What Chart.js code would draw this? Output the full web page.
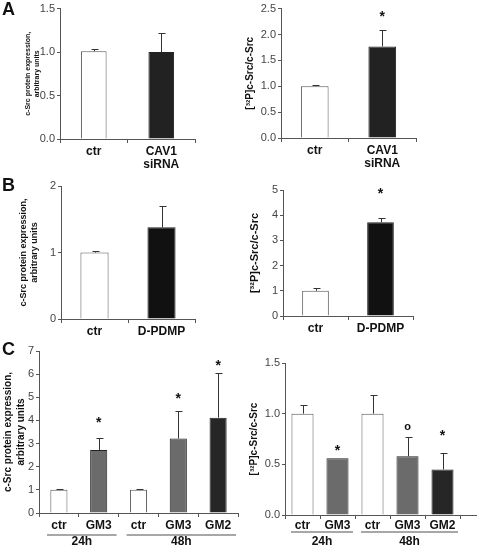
<!DOCTYPE html>
<html>
<head>
<meta charset="utf-8">
<script src="https://cdn.jsdelivr.net/npm/chart.js@4.4.0/dist/chart.umd.min.js"></script>
<style>
html, body { margin: 0; padding: 0; background: #fff; }
#fig { position: relative; width: 477px; height: 549px; overflow: hidden; }
#fig canvas { position: absolute; }
.tag { position: absolute; font: bold 18px 'Liberation Sans', Arial, sans-serif; color: #111; line-height: 18px; }
</style>
</head>
<body>
<div id="fig">
    <canvas id="aExpr" width="205" height="172" style="left:0;top:0"></canvas>
    <canvas id="aPhos" width="237" height="172" style="left:240px;top:0"></canvas>
    <canvas id="bExpr" width="205" height="168" style="left:0;top:172px"></canvas>
    <canvas id="bPhos" width="237" height="168" style="left:240px;top:172px"></canvas>
    <canvas id="cExpr" width="240" height="209" style="left:0;top:340px"></canvas>
    <canvas id="cPhos" width="237" height="209" style="left:240px;top:340px"></canvas>
    <div class="tag" style="left:2px;top:0">A</div>
    <div class="tag" style="left:2px;top:176px">B</div>
    <div class="tag" style="left:2px;top:340px">C</div>
</div>
<script>
const FONT = "'Liberation Sans', Arial, sans-serif";

// ---- panel A: CAV1 siRNA ----
const aCats = ['ctr', ['CAV1', 'siRNA']];
const aExprVals = [1.01, 1.0];
const aExprErr = [0.03, 0.22];
const aExprTicks = ['0.0', '0.5', '1.0', '1.5'];
const aPhosVals = [1.0, 1.77];
const aPhosErr = [0.02, 0.31];
const aPhosTicks = ['0.0', '0.5', '1.0', '1.5', '2.0', '2.5'];
const aPhosMarks = ['', '*'];
const aPhosMarkAt = [0, 2.39];

// ---- panel B: D-PDMP ----
const bCats = ['ctr', 'D-PDMP'];
const bExprVals = [1.0, 1.38];
const bExprErr = [0.02, 0.32];
const bExprTicks = ['0', '1', '2'];
const bPhosVals = [1.0, 3.72];
const bPhosErr = [0.1, 0.18];
const bPhosTicks = ['0', '1', '2', '3', '4', '5'];
const bPhosMarks = ['', '*'];
const bPhosMarkAt = [0, 4.94];

// ---- panel C: gangliosides, 24h / 48h ----
const cCats = ['ctr', 'GM3', 'ctr', 'GM3', 'GM2'];
const cGroups = ['24h', '48h'];
const cGroupFirst = [0, 2];
const cGroupLast = [1, 4];
const cExprVals = [1.0, 2.72, 1.0, 3.22, 4.12];
const cExprErr = [0.05, 0.5, 0.02, 1.2, 1.93];
const cExprTicks = ['0', '1', '2', '3', '4', '5', '6', '7'];
const cExprMarks = ['', '*', '', '*', '*'];
const cExprMarkAt = [0, 4.02, 0, 5.03, 6.49];
const cPhosVals = [1.0, 0.56, 1.0, 0.58, 0.45];
const cPhosErr = [0.09, 0, 0.18, 0.19, 0.16];
const cPhosTicks = ['0.0', '0.5', '1.0', '1.5'];
const cPhosMarks = ['', '*', '', 'o', '*'];
const cPhosMarkAt = [0, 0.66, 0, 0.87, 0.81];

const exprTitle = ['c-Src protein expression,', 'arbitrary units'];
const phosTitle = '[³²P]c-Src/c-Src';

const shade = { 'ctr': '#ffffff', 'CAV1': '#222222', 'D-PDMP': '#111111', 'GM3': '#6b6b6b', 'GM2': '#262626' };
const keyOf = c => Array.isArray(c) ? c[0] : c;

// error bars, significance marks, group brackets
const extras = {
    id: 'extras',
    afterDatasetsDraw(chart, args, opts) {
        const ctx = chart.ctx;
        const y = chart.scales.y, x = chart.scales.x;
        const meta = chart.getDatasetMeta(0);
        const vals = chart.data.datasets[0].data;
        ctx.save();
        ctx.strokeStyle = '#333';
        ctx.lineWidth = 1;
        meta.data.forEach((bar, i) => {
            const e = (opts.err || [])[i];
            if (!e) return;
            const px = Math.round(bar.x) + 0.5;
            const y0 = y.getPixelForValue(vals[i]);
            const y1 = Math.round(y.getPixelForValue(vals[i] + e)) + 0.5;
            ctx.beginPath();
            ctx.moveTo(px, y0);
            ctx.lineTo(px, y1);
            ctx.moveTo(px - 3, y1);
            ctx.lineTo(px + 4, y1);
            ctx.stroke();
        });
        ctx.fillStyle = '#111';
        ctx.textAlign = 'center';
        ctx.textBaseline = 'middle';
        (opts.marks || []).forEach((m, i) => {
            if (!m) return;
            ctx.font = (m === 'o' ? 'bold 11px ' : 'bold 14px ') + FONT;
            const off = m === 'o' ? 0 : 3;
            ctx.fillText(m, meta.data[i].x, y.getPixelForValue(opts.markAt[i]) + off);
        });
        const area = chart.chartArea;
        if (opts.extendTo) {
            ctx.strokeStyle = '#555';
            ctx.beginPath();
            ctx.moveTo(area.right, Math.round(area.bottom) + 0.5);
            ctx.lineTo(opts.extendTo, Math.round(area.bottom) + 0.5);
            ctx.stroke();
        }
        if (opts.groups) {
            const half = (x.getPixelForValue(1) - x.getPixelForValue(0)) / 2;
            opts.groups.forEach((g, k) => {
                const x1 = x.getPixelForValue(opts.first[k]) - half + opts.inset;
                const x2 = x.getPixelForValue(opts.last[k]) + half - 2;
                const ly = area.bottom + opts.lineY;
                ctx.strokeStyle = '#8a8a8a';
                ctx.lineWidth = 1.5;
                ctx.beginPath();
                ctx.moveTo(x1, ly);
                ctx.lineTo(x2, ly);
                ctx.stroke();
                ctx.font = 'bold 12px ' + FONT;
                ctx.fillText(g, (x1 + x2) / 2, area.bottom + opts.textY);
            });
        }
        ctx.restore();
    }
};

function makePanel(id, d, g) {
    const ticks = d.ticks;
    const step = parseFloat(ticks[1]) - parseFloat(ticks[0]);
    return new Chart(document.getElementById(id), {
        type: 'bar',
        data: {
            labels: d.cats,
            datasets: [{
                data: d.vals,
                backgroundColor: d.cats.map(c => shade[keyOf(c)]),
                borderColor: d.cats.map(c => keyOf(c) === 'ctr' ? '#555' : '#222'),
                borderWidth: 1,
                barPercentage: g.barPct,
                categoryPercentage: 1
            }]
        },
        options: {
            responsive: false,
            animation: false,
            devicePixelRatio: 1,
            layout: { padding: { top: g.padTop, right: g.padRight, left: 0, bottom: 0 } },
            plugins: {
                legend: { display: false },
                tooltip: { enabled: false },
                extras: Object.assign({ err: d.err, marks: d.marks, markAt: d.markAt }, g.extras || {})
            },
            scales: {
                x: {
                    grid: { drawOnChartArea: false, drawTicks: true, tickLength: 4, color: '#555', offset: true },
                    border: { color: '#555' },
                    ticks: {
                        color: '#111',
                        font: { family: FONT, size: g.catSize, weight: 'bold', lineHeight: 1.1 },
                        padding: g.catPad,
                        maxRotation: 0,
                        autoSkip: false
                    },
                    afterFit: s => { s.height = g.xH; }
                },
                y: {
                    min: 0,
                    max: parseFloat(ticks[ticks.length - 1]),
                    grid: { drawOnChartArea: false, drawTicks: true, tickLength: 3, color: '#555' },
                    border: { color: '#555' },
                    ticks: {
                        stepSize: step,
                        callback: (v, i) => ticks[i],
                        color: '#444',
                        font: { family: FONT, size: g.tickSize },
                        padding: 2
                    },
                    title: {
                        display: true,
                        text: d.title,
                        color: '#111',
                        font: { family: FONT, size: g.titleSize, weight: 'bold', lineHeight: 1.25 },
                        padding: { top: g.titlePad, bottom: 0 }
                    },
                    afterFit: s => { s.width = g.yW; }
                }
            }
        },
        plugins: [extras]
    });
}

makePanel('aExpr',
    { cats: aCats, vals: aExprVals, err: aExprErr, ticks: aExprTicks, title: exprTitle },
    { yW: 60, padTop: 6, padRight: 10, xH: 33, barPct: 0.38, catSize: 12, catPad: 2, tickSize: 11, titleSize: 7, titlePad: 24 });
makePanel('aPhos',
    { cats: aCats, vals: aPhosVals, err: aPhosErr, ticks: aPhosTicks, title: phosTitle, marks: aPhosMarks, markAt: aPhosMarkAt },
    { yW: 41, padTop: 4, padRight: 61, xH: 34, barPct: 0.41, catSize: 12, catPad: 2, tickSize: 11, titleSize: 10, titlePad: 4 });
makePanel('bExpr',
    { cats: bCats, vals: bExprVals, err: bExprErr, ticks: bExprTicks, title: exprTitle },
    { yW: 61, padTop: 14, padRight: 10, xH: 21, barPct: 0.42, catSize: 12, catPad: 2, tickSize: 11, titleSize: 9, titlePad: 18 });
makePanel('bPhos',
    { cats: bCats, vals: bPhosVals, err: bPhosErr, ticks: bPhosTicks, title: phosTitle, marks: bPhosMarks, markAt: bPhosMarkAt },
    { yW: 43, padTop: 18, padRight: 64, xH: 24, barPct: 0.41, catSize: 12, catPad: 2, tickSize: 11, titleSize: 11, titlePad: 8 });
makePanel('cExpr',
    { cats: cCats, vals: cExprVals, err: cExprErr, ticks: cExprTicks, title: exprTitle, marks: cExprMarks, markAt: cExprMarkAt },
    { yW: 39, padTop: 11, padRight: 2, xH: 36, barPct: 0.43, catSize: 12, catPad: 2, tickSize: 11, titleSize: 10, titlePad: 2,
      extras: { groups: cGroups, first: cGroupFirst, last: cGroupLast, inset: 8, lineY: 22, textY: 29 } });
makePanel('cPhos',
    { cats: cCats, vals: cPhosVals, err: cPhosErr, ticks: cPhosTicks, title: phosTitle, marks: cPhosMarks, markAt: cPhosMarkAt },
    { yW: 45, padTop: 23, padRight: 17, xH: 34, barPct: 0.63, catSize: 12, catPad: 0, tickSize: 11, titleSize: 10, titlePad: 8,
      extras: { groups: cGroups, first: cGroupFirst, last: cGroupLast, inset: 6, lineY: 17, textY: 27, extendTo: 237 } });
</script>
</body>
</html>
